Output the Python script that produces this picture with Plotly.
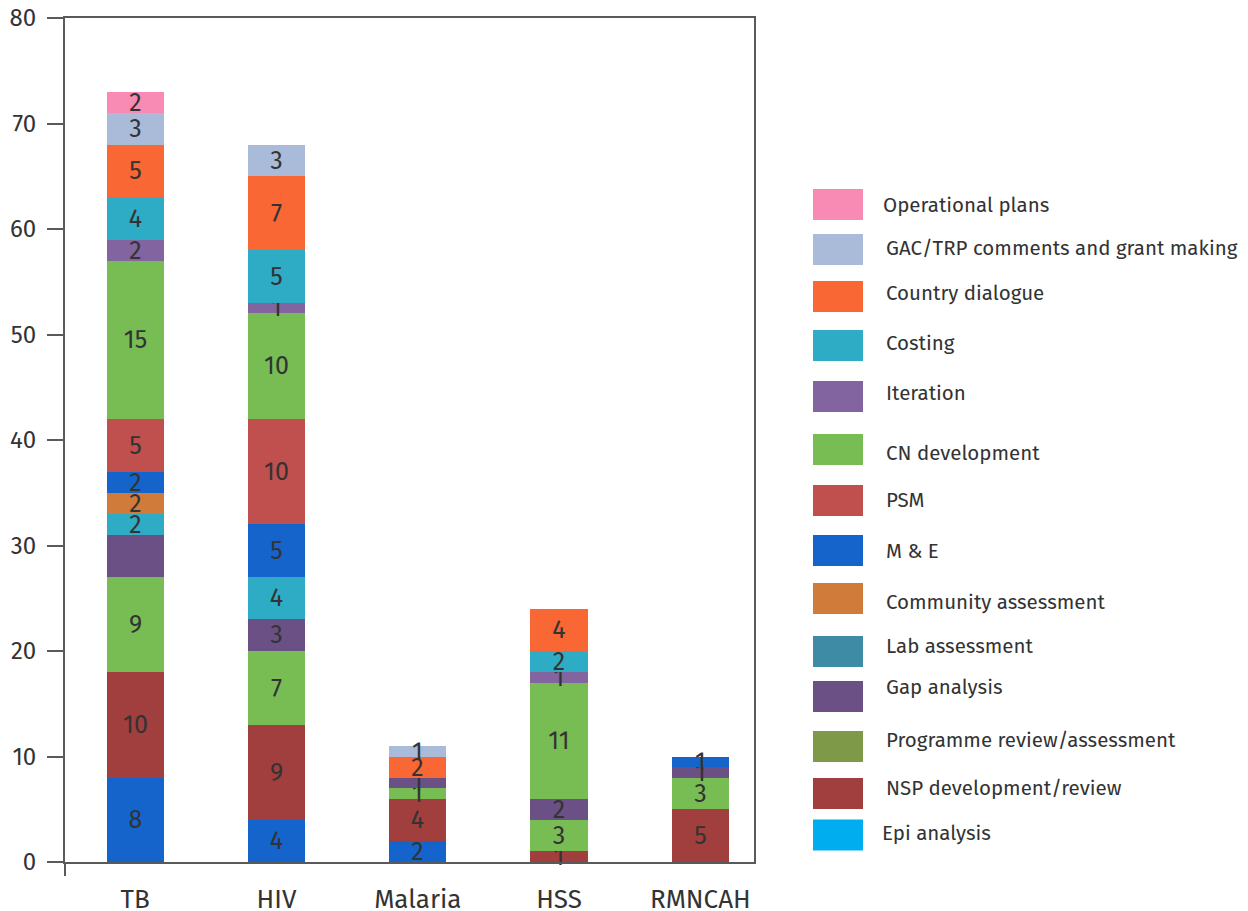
import plotly.graph_objects as go

categories = ["TB", "HIV", "Malaria", "HSS", "RMNCAH"]

# Stack segments per category, bottom to top: (activity, value, label)
tb_activities = ["M & E", "NSP development/review", "CN development", "Gap analysis", "Costing",
                 "Community assessment", "M & E", "PSM", "CN development", "Iteration", "Costing",
                 "Country dialogue", "GAC/TRP comments and grant making", "Operational plans"]
tb_values = [8, 10, 9, 4, 2, 2, 2, 5, 15, 2, 4, 5, 3, 2]
tb_labels = ["8", "10", "9", "", "2", "2", "2", "5", "15", "2", "4", "5", "3", "2"]

hiv_activities = ["M & E", "NSP development/review", "CN development", "Gap analysis", "Costing",
                  "M & E", "PSM", "CN development", "Iteration", "Costing", "Country dialogue",
                  "GAC/TRP comments and grant making"]
hiv_values = [4, 9, 7, 3, 4, 5, 10, 10, 1, 5, 7, 3]
hiv_labels = ["4", "9", "7", "3", "4", "5", "10", "10", "1", "5", "7", "3"]

malaria_activities = ["M & E", "NSP development/review", "CN development", "Gap analysis",
                      "Country dialogue", "GAC/TRP comments and grant making"]
malaria_values = [2, 4, 1, 1, 2, 1]
malaria_labels = ["2", "4", "1", "1", "2", "1"]

hss_activities = ["NSP development/review", "CN development", "Gap analysis", "CN development",
                  "Iteration", "Costing", "Country dialogue"]
hss_values = [1, 3, 2, 11, 1, 2, 4]
hss_labels = ["1", "3", "2", "11", "1", "2", "4"]

rmncah_activities = ["NSP development/review", "CN development", "Gap analysis", "M & E"]
rmncah_values = [5, 3, 1, 1]
rmncah_labels = ["5", "3", "1", "1"]

legend_names = ["Operational plans", "GAC/TRP comments and grant making", "Country dialogue",
                "Costing", "Iteration", "CN development", "PSM", "M & E", "Community assessment",
                "Lab assessment", "Gap analysis", "Programme review/assessment",
                "NSP development/review", "Epi analysis"]
legend_colors = ["#f78bb4", "#a9bbd8", "#f86734", "#2eacc6", "#8264a1", "#77bd54", "#c0504e",
                 "#1464cc", "#d07b3a", "#3d8ba5", "#6a5085", "#7e9a48", "#a03f3e", "#00aeef"]
legend_swatch_y = [204.5, 249.5, 296.5, 345.5, 396.5, 449.5, 500.5, 550.5, 598.5, 651.5,
                   696.5, 746.5, 793.5, 835]
legend_text_y = [205, 248, 293, 343, 393, 453, 500, 551, 602, 646, 687, 740, 788, 833]
legend_text_x = [883, 886, 886, 886, 886, 886, 886, 886, 886, 886, 886, 886, 886, 882]

color_of = dict(zip(legend_names, legend_colors))

# page body margin offset (browser default 8px)
OFF = 8
W, H = 1248 - OFF, 911 - OFF
L, R, T, B = 65 - OFF, 754 - OFF, 18 - OFF, 862 - OFF
FONT = "Fira Sans, Noto Sans, Open Sans, sans-serif"
TXT = "#333333"
AX = "#5a5a5a"

fig = go.Figure()
stacks = [
    (categories[0], tb_activities, tb_values, tb_labels),
    (categories[1], hiv_activities, hiv_values, hiv_labels),
    (categories[2], malaria_activities, malaria_values, malaria_labels),
    (categories[3], hss_activities, hss_values, hss_labels),
    (categories[4], rmncah_activities, rmncah_values, rmncah_labels),
]
for cat, acts, vals, labs in stacks:
    for a, v, lab in zip(acts, vals, labs):
        fig.add_trace(go.Bar(
            x=[cat], y=[v], width=0.405, name=a, showlegend=False,
            marker=dict(color=color_of[a], line=dict(width=0)),
            text=[lab], textposition="inside", insidetextanchor="middle",
            textangle=0, textfont=dict(size=25, color=TXT, family=FONT),
            cliponaxis=False, hoverinfo="name+y",
        ))

pw, ph = R - L, B - T


def px(x):
    return (x - OFF - L) / pw


def py(y):
    return (B - (y - OFF)) / ph


shapes = []
annotations = []
# left axis extension below zero
shapes.append(dict(type="line", xref="paper", yref="paper", x0=0, x1=0, y0=0, y1=py(876),
                   line=dict(color=AX, width=2)))
for name, col, sy, ty, tx in zip(legend_names, legend_colors, legend_swatch_y, legend_text_y,
                                 legend_text_x):
    shapes.append(dict(type="rect", xref="paper", yref="paper",
                       x0=px(813), x1=px(863), y0=py(sy + 15.5), y1=py(sy - 15.5),
                       fillcolor=col, line=dict(width=0)))
    annotations.append(dict(xref="paper", yref="paper", x=px(tx - 2), y=py(ty), text=name,
                            showarrow=False, xanchor="left", yanchor="middle",
                            font=dict(size=20.5, color=TXT, family=FONT)))

fig.update_layout(
    width=W, height=H, barmode="stack", bargap=0,
    paper_bgcolor="white", plot_bgcolor="white",
    margin=dict(l=L, r=W - R, t=T, b=H - B, autoexpand=False),
    font=dict(family=FONT, color=TXT),
    uniformtext=dict(mode="show", minsize=25),
    shapes=shapes, annotations=annotations, showlegend=False,
    xaxis=dict(range=[-0.497, 4.38], showgrid=False, showline=True, mirror=True,
               linecolor=AX, linewidth=2, ticks="", ticklabelstandoff=13,
               ticklabeloverflow="allow",
               tickfont=dict(size=26, color=TXT, family=FONT)),
    yaxis=dict(range=[0, 80], dtick=10, showgrid=False, showline=True, mirror=True,
               linecolor=AX, linewidth=2, ticks="outside", ticklen=16, tickwidth=2,
               tickcolor=AX, zeroline=False, ticklabelstandoff=6,
               ticklabeloverflow="allow",
               tickfont=dict(size=24, color=TXT, family=FONT)),
)

fig.write_html("out.html")
